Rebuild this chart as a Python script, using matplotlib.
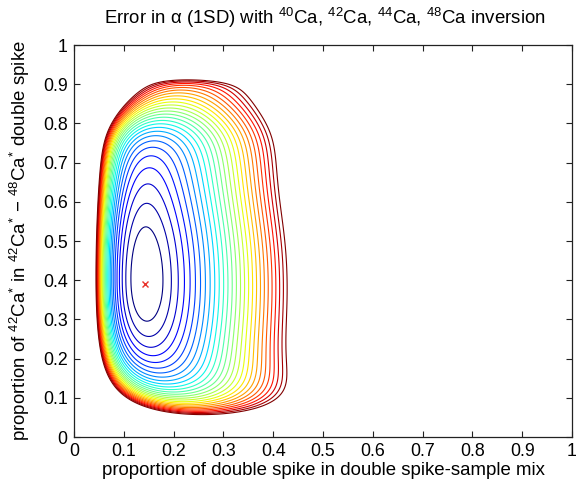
import numpy as np
import matplotlib
matplotlib.use("Agg")
import matplotlib.pyplot as plt

# ---------------- values ----------------
# Error model: E(p, q) = (A(q) * p**(-gamma_left) + B(q) * p**gamma_right) * (1 + W(q))
# p = proportion of double spike in mix, q = proportion of 42Ca* in the spike.
optimum = (0.143, 0.39)          # red cross (minimum error)
A_opt = 0.1175                   # coefficient A at the optimum
curv_above = 1.45                # relative growth of A above the optimum (per q^2)
curv_below = 2.3                 # relative growth of A below the optimum (per q^2)
wall_low = (1.234, 0.058, 0.06)  # (height, q, decay) of lower rise of A
wall_high = (6.0, 0.78, 0.03)    # (slope, onset q, softness) of upper rise of A
edge_top = (0.037, 0.91, 0.010)  # (height, q, decay) steep upper limit of all errors
B_opt = 3.12                     # coefficient B at the optimum
B_dips = [(-0.42, 0.04, 0.13), (-0.22, 0.95, 0.09), (0.07, 0.65, 0.15)]  # (amount, q, width)
gamma_left = 0.8
gamma_right = 1.0
# contour levels: error relative to the minimum
levels = [1.02, 1.04, 1.06, 1.08, 1.10, 1.12, 1.14, 1.16, 1.18, 1.20,
          1.22, 1.24, 1.26, 1.28, 1.30, 1.32, 1.34, 1.36, 1.38, 1.40,
          1.42, 1.44, 1.46, 1.48, 1.50, 1.52, 1.54, 1.56]

title = r"Error in α (1SD) with $^{40}$Ca, $^{42}$Ca, $^{44}$Ca, $^{48}$Ca inversion"
xlabel = "proportion of double spike in double spike-sample mix"
ylabel = r"proportion of $^{42}$Ca$^{*}$ in $^{42}$Ca$^{*}$ $-$ $^{48}$Ca$^{*}$ double spike"
ticks = [0, 0.1, 0.2, 0.3, 0.4, 0.5, 0.6, 0.7, 0.8, 0.9, 1]
ticklabels = ["0", "0.1", "0.2", "0.3", "0.4", "0.5", "0.6", "0.7", "0.8", "0.9", "1"]

plt.rcParams['font.family'] = ['Liberation Sans', 'DejaVu Sans']
plt.rcParams['mathtext.fontset'] = 'custom'
plt.rcParams['mathtext.rm'] = 'Liberation Sans'
plt.rcParams['mathtext.it'] = 'Liberation Sans:italic'
plt.rcParams['mathtext.bf'] = 'Liberation Sans:bold'

p = np.linspace(0.002, 1.0, 900)
q = np.linspace(0.0, 1.0, 901)
u = q - optimum[1]
a_rel = np.where(u > 0, curv_above, curv_below) * u ** 2
a_rel = a_rel + wall_low[0] * np.exp((wall_low[1] - q) / wall_low[2])
a_rel = a_rel + wall_high[0] * wall_high[2] * np.logaddexp(0, (q - wall_high[1]) / wall_high[2])
A_q = A_opt * (1 + a_rel)
B_q = B_opt + sum(amt * np.exp(-((q - qc) / w) ** 2) for amt, qc, w in B_dips)
W_q = edge_top[0] * np.exp(np.minimum((q - edge_top[1]) / edge_top[2], 30))

P, Q = np.meshgrid(p, q)
E = (A_q[:, None] * P ** (-gamma_left) + B_q[:, None] * P ** gamma_right) * (1 + W_q[:, None])
E = E / E.min()

fig = plt.figure(figsize=(5.77, 4.87), dpi=100)
ax = fig.add_axes([74 / 577, 50 / 487, 498 / 577, 392 / 487])
ax.contour(P, Q, E, levels=levels, cmap='jet', linewidths=0.8)
ax.plot([optimum[0]], [optimum[1]], 'x', color='#e8322a', ms=5, mew=1.0)

ax.set_xlim(0, 1)
ax.set_ylim(0, 1)
ax.set_xticks(ticks)
ax.set_xticklabels(ticklabels)
ax.set_yticks(ticks)
ax.set_yticklabels(ticklabels)
ax.tick_params(direction='in', top=True, right=True, length=4, width=0.8,
               labelsize=12.8, pad=4.5, colors='#222222', labelcolor='black')
for s in ax.spines.values():
    s.set_linewidth(0.9)
    s.set_color('#222222')
ax.set_xlabel(xlabel, fontsize=13.4)
ax.set_ylabel(ylabel, fontsize=13.4)
ax.xaxis.set_label_coords(0.5, -0.064)
ax.yaxis.set_label_coords(-0.085, 0.5)
fig.text(325 / 577, 1 - 18 / 487, title, ha='center', va='center', fontsize=13.4)

fig.savefig("out.png", dpi=100)
